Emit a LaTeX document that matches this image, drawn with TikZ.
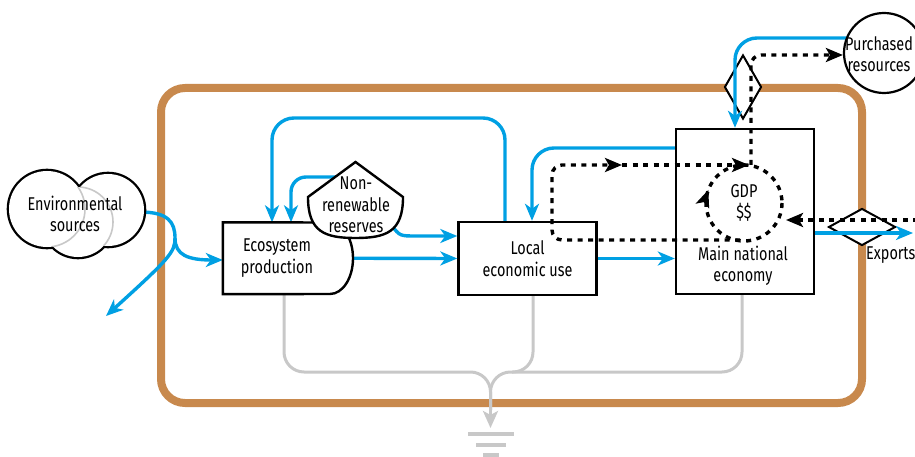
\documentclass[tikz,border=0pt]{standalone}
\usepackage{fontspec}
\usetikzlibrary{arrows.meta,positioning,shapes.geometric,decorations.markings}
\newfontfamily\diagfont{Fira Sans}[FakeStretch=0.78]
\definecolor{flowblue}{RGB}{0,160,227}
\definecolor{framebrown}{RGB}{200,137,77}
\definecolor{sinkgrey}{RGB}{200,200,200}
\tikzset{
  box/.style={draw,line width=2.4pt,inner sep=0pt},
  txt/.style={align=center,inner sep=0pt,font=\diagfont\fontsize{18.5}{21.5}\selectfont},
  flow/.style={draw=flowblue,line width=3.4pt,rounded corners=22pt,
    -{Stealth[length=17pt,width=14pt,inset=5pt]}},
  money/.style={line width=3.4pt,dash pattern=on 5pt off 5.5pt,rounded corners=10pt,
    -{Stealth[length=17pt,width=14pt,inset=4pt]}},
  sink/.style={draw=sinkgrey,line width=3pt,rounded corners=20pt},
  gate/.style={diamond,draw,fill=white,line width=2pt,inner sep=0pt},
}
\begin{document}
\begin{tikzpicture}[x=1pt,y=-1pt]
  \useasboundingbox (0,0) rectangle (915,457);

  % system frame
  \draw[framebrown,line width=8pt,rounded corners=24pt] (161,88) rectangle (862,403);

  % gates on the frame
  \node[gate,minimum width=37pt,minimum height=64pt] (topgate) at (743,87) {};
  \node[gate,minimum width=67pt,minimum height=37pt] (expgate) at (862,227) {};

  % place holders for the boxes
  \node[inner sep=0pt,minimum width=130pt,minimum height=71.5pt] (eco) at (288,258.25) {};
  \node[box,minimum width=138pt,minimum height=73pt] (local) at (527.5,258.5) {};
  \node[box,minimum width=138pt,minimum height=165pt] (main) at (745,211.5) {};

  % sinks to the ground
  \draw[sink] (eco.south -| 284,0) -- (284,372) -- (490.5,372) -- (490.5,410);
  \draw[sink] (local.south -| 533,0) -- (533,372) -- (490.5,372) -- (490.5,410);
  \draw[sink] (main.south -| 742,0) -- (742,372) -- (512,372);
  \draw[sink,-{Stealth[length=17pt,width=15pt,inset=4pt]}] (490.5,400) -- (490.5,428);
  \coordinate (ground) at (491,434);
  \draw[sink,line width=4pt] (ground) ++(-23,0) -- ++(46,0);
  \draw[sink,line width=4pt] (ground) ++(-15,11) -- ++(30,0);
  \draw[sink,line width=4pt] (ground) ++(-8,21) -- ++(16,0);

  % energy flows
  \coordinate (split) at (175,238);
  \draw[flow,sharp corners] (140,212) .. controls (168,212) and (175,222) .. (split)
    .. controls (175,255) and (188,260) .. (eco.west |- 0,260);
  \draw[flow,sharp corners] (split) .. controls (175,252) and (170,258) .. (106,316);
  \draw[flow] (local.north -| 505,0) -- (505,118) -- (272,118) -- (eco.north -| 272,0);
  \draw[flow,rounded corners=15pt] (336,177) -- (291,177) -- (eco.north -| 291,0);
  \draw[flow,sharp corners] (392,226) .. controls (400,236) .. (416,236) -- (local.west |- 0,236);
  \draw[flow] (eco.east) -- (local.west);
  \draw[flow] (local.east) -- (main.west |- local.east);
  \draw[flow] (main.west |- 0,148) -- (532,148) -- (local.north -| 532,0);
  \draw[flow] (main.east |- 0,233) -- (913,233);
  \draw[flow] (847,38) -- (735,38) -- (main.north -| 735,0);

  % ecosystem production and reserves
  \draw[line width=2.4pt,fill=white] (eco.north west) -- (330,222.5)
    arc[start angle=270,end angle=450,x radius=23,y radius=35.75] -- (eco.south west) -- cycle;
  \node[txt] at (277,258) {Ecosystem\\production};
  \draw[line width=2.4pt,fill=white] (355.5,162) -- (308,197)
    .. controls (308,232) and (325,238) .. (355.5,238)
    .. controls (386,238) and (403,232) .. (403,197) -- cycle;
  \node[txt] (res) at (356,205) {Non-\\renewable\\reserves};

  % environmental sources
  \draw[line width=4.6pt] (47,209) circle[radius=38] (78,222) circle[radius=35] (108,210) circle[radius=36];
  \fill[white] (47,209) circle[radius=38] (78,222) circle[radius=35] (108,210) circle[radius=36];
  \begin{scope}
    \clip (78,222) circle[radius=35] (108,210) circle[radius=36];
    \draw[sinkgrey,line width=1.6pt] (47,209) circle[radius=38];
  \end{scope}
  \begin{scope}
    \clip (108,210) circle[radius=36];
    \draw[sinkgrey,line width=1.6pt] (78,222) circle[radius=35];
  \end{scope}
  \node[txt] (env) at (75,214) {Environmental\\sources};

  % purchased resources
  \node[circle,draw,fill=white,line width=2.2pt,minimum size=80pt] (purch) at (884,53) {};
  \node[txt] (purchlbl) at (879,54) {Purchased\\resources};

  % labels
  \node[txt] at (local.center) {Local\\economic use};
  \node[txt] (mainlbl) at (743,266) {Main national\\economy};
  \node[txt] (gdp) at (744,203) {GDP\\\$\$};
  \node[txt,anchor=north west] (explbl) at (866,247) {Exports};

  % money flows
  \draw[money,postaction={decorate},decoration={markings,
    mark=at position 0.556 with {\arrow{Stealth[length=17pt,width=14pt,inset=4pt]}}}]
    (gdp.center) circle[radius=38];
  \draw[money] (740,240) -- (552,240) -- (552,165) -- (622,165);
  \draw[money] (622,165) -- (749,165);
  \draw[money] (751,165) -- (751,55) -- (purch.west |- 0,55);
  \draw[money] (918,220) -- (786,220);
\end{tikzpicture}
\end{document}
